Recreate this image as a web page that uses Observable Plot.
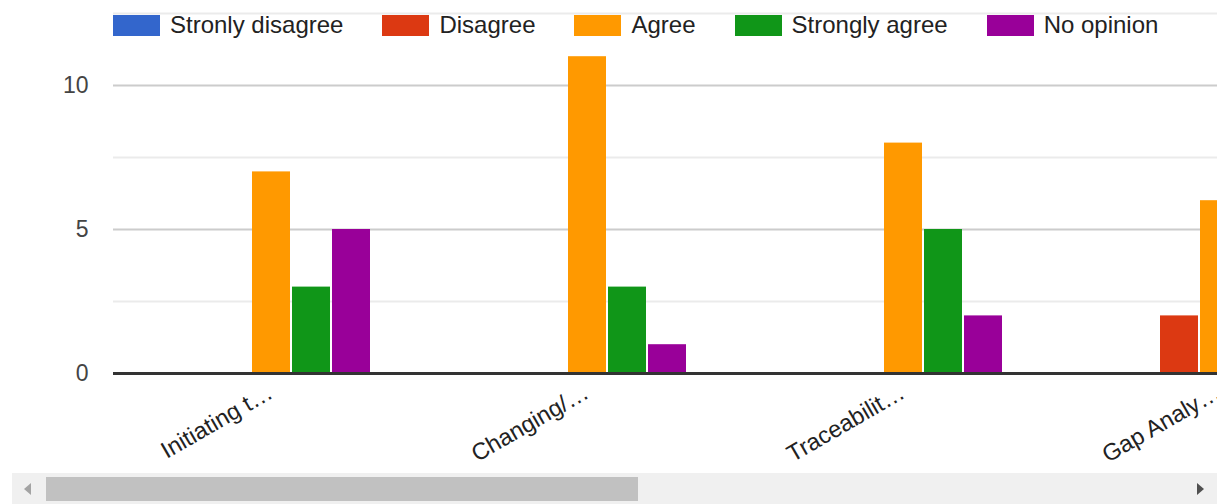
<!DOCTYPE html>
<html>
<head>
<meta charset="utf-8">
<script src="https://cdn.jsdelivr.net/npm/d3@7"></script>
<script src="https://cdn.jsdelivr.net/npm/@observablehq/plot@0.6"></script>
<style>
  html, body { margin: 0; padding: 0; background: #fff; }
  body { width: 1228px; height: 504px; overflow: hidden; position: relative; font-family: "Liberation Sans", Arial, sans-serif; }
  #wrap { position: absolute; left: 0; top: 0; width: 1217px; height: 472px; overflow: hidden; }
  .layer { position: absolute; left: 0; top: 0; }
  .layer svg { max-width: none !important; display: block; }
  #legend { position: absolute; left: 113px; top: 11px; display: flex; align-items: center; font-size: 24px; color: #222; white-space: nowrap; }
  .item { display: flex; align-items: center; margin-right: 39px; }
  .sw { width: 47px; height: 21px; margin-right: 10px; }
  #track { position: absolute; left: 12px; top: 473px; width: 1205px; height: 31px; background: #f0f0f0; }
  #thumb { position: absolute; left: 34px; top: 4px; width: 592px; height: 24px; background: #c1c1c1; }
  .arr { position: absolute; top: 10px; width: 0; height: 0; border-top: 6px solid transparent; border-bottom: 6px solid transparent; }
  #al { left: 12px; border-right: 7px solid #a3a3a3; }
  #ar { left: 1185px; border-left: 7px solid #505050; }
</style>
</head>
<body>
<div id="wrap">
  <div id="back" class="layer"></div>
  <div id="bars" class="layer"></div>
  <div id="front" class="layer"></div>
  <div id="legend"></div>
</div>
<div id="track"><div id="al" class="arr"></div><div id="thumb"></div><div id="ar" class="arr"></div></div>
<script>
const categories = ["Initiating t…", "Changing/…", "Traceabilit…", "Gap Analy…"];
const series = ["Stronly disagree", "Disagree", "Agree", "Strongly agree", "No opinion"];
const colors = ["#3366cc", "#dc3912", "#ff9900", "#109618", "#990099"];
const stronglyDisagree = [0, 0, 0, 0];
const disagree = [0, 0, 0, 2];
const agree = [7, 11, 8, 6];
const stronglyAgree = [3, 3, 5, null];
const noOpinion = [5, 1, 2, null];
const yTicks = [0, 5, 10];
const yMinorTicks = [2.5, 7.5, 12.5];

const seriesValues = [stronglyDisagree, disagree, agree, stronglyAgree, noOpinion];
const data = [];
categories.forEach((c, ci) => {
  series.forEach((s, si) => {
    const v = seriesValues[si][ci];
    if (v != null && v > 0) data.push({category: c, series: s, value: v});
  });
});

const font = '"Liberation Sans", Arial, sans-serif';
const common = {
  width: 1377,
  height: 472,
  marginLeft: 113,
  marginRight: 0,
  marginTop: 13,
  marginBottom: 99,
  y: {domain: [0, 12.5], axis: null}
};
const style = bg => ({fontFamily: font, maxWidth: "none", overflow: "visible", background: bg});

// background: gridlines
const back = Plot.plot({
  ...common,
  style: style("white"),
  marks: [
    Plot.ruleY(yMinorTicks, {y: d => d, stroke: "#ebebeb", strokeWidth: 2}),
    Plot.ruleY(yTicks.filter(d => d !== 0), {y: d => d, stroke: "#cccccc", strokeWidth: 2})
  ]
});

// bars, faceted by category
const bars = Plot.plot({
  ...common,
  style: style("transparent"),
  fx: {domain: categories, paddingInner: 0.373, paddingOuter: 0.181, axis: null},
  x: {domain: series, paddingInner: 0.05, paddingOuter: 0, axis: null},
  color: {domain: series, range: colors},
  marks: [
    Plot.barY(data, {fx: "category", x: "series", y: "value", fill: "series"}),
    Plot.text(categories, {fx: d => d, text: d => d, frameAnchor: "bottom", rotate: -30, textAnchor: "end", lineAnchor: "middle", dx: -1, dy: 17, fontSize: 23.5, fill: "#222"})
  ]
});

// front: baseline and y tick labels
const front = Plot.plot({
  ...common,
  style: style("transparent"),
  marks: [
    Plot.ruleY([0], {stroke: "#333", strokeWidth: 3}),
    Plot.text(yTicks, {y: d => d, text: d => String(d), frameAnchor: "left", dx: -25, textAnchor: "end", fontSize: 23, fill: "#444"})
  ]
});

document.getElementById("back").appendChild(back);
document.getElementById("bars").appendChild(bars);
document.getElementById("front").appendChild(front);

const legend = document.getElementById("legend");
series.forEach((s, i) => {
  const item = document.createElement("div");
  item.className = "item";
  const sw = document.createElement("div");
  sw.className = "sw";
  sw.style.background = colors[i];
  const t = document.createElement("span");
  t.textContent = s;
  item.appendChild(sw);
  item.appendChild(t);
  legend.appendChild(item);
});
</script>
</body>
</html>
